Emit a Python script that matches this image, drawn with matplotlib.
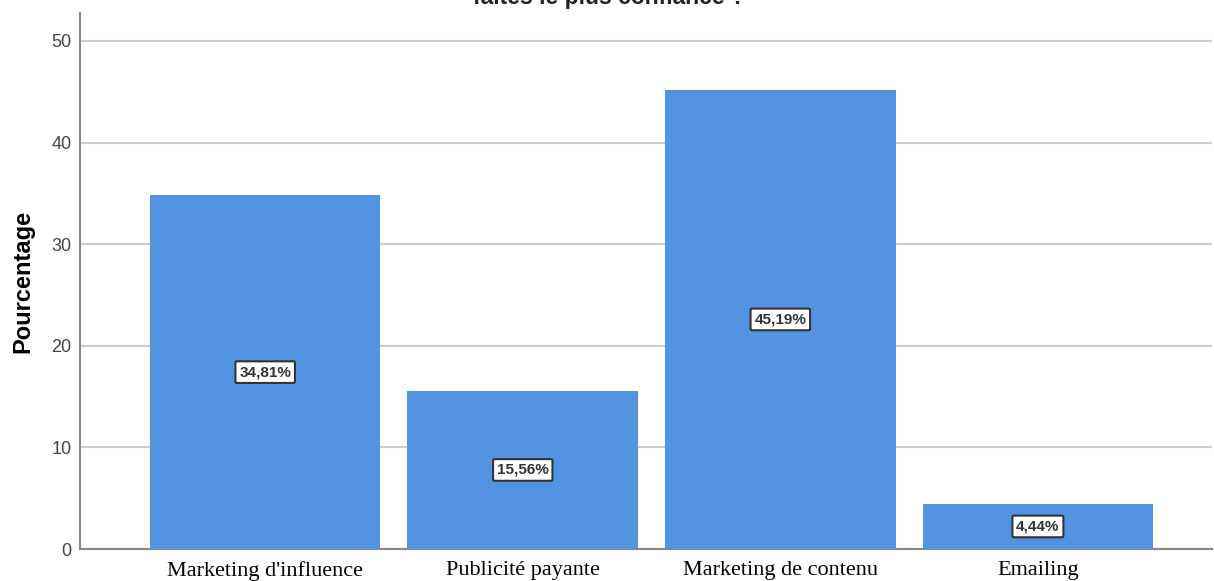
import matplotlib
matplotlib.use("Agg")
import matplotlib.pyplot as plt
import numpy as np

categories = ["Marketing d'influence", "Publicité payante", "Marketing de contenu", "Emailing"]
values = [34.81, 15.56, 45.19, 4.44]
labels = ["34,81%", "15,56%", "45,19%", "4,44%"]
yticks = [0, 10, 20, 30, 40, 50]

fig = plt.figure(figsize=(12.14, 5.81), dpi=100)
ax = fig.add_axes([80/1214, 1-549/581, 1-80/1214 - 2/1214, (549-13)/581])

x = np.arange(len(categories))
ax.bar(x, values, width=0.895, color="#5294E2", zorder=3)
for xi, v, lab in zip(x, values, labels):
    ax.text(xi, v/2, lab, ha="center", va="center", fontsize=11, family="Liberation Sans",
            fontweight="bold", color="#333333", zorder=4,
            bbox=dict(boxstyle="round,pad=0.25,rounding_size=0.1", facecolor="white", edgecolor="#333333", linewidth=1.5))

ax.set_xlim(-0.719, 3.676)
ax.set_ylim(0, 52.75)
ax.set_yticks(yticks)
ax.set_yticklabels([str(t) for t in yticks], fontsize=13, family="Liberation Sans", color="#444444")
ax.set_xticks(x)
ax.set_xticklabels(categories, fontsize=16, family="Liberation Serif", color="black")
ax.tick_params(axis="y", length=0, pad=6)
ax.tick_params(axis="x", length=0, pad=9)
ax.grid(axis="y", color="#cccccc", linewidth=1.5, zorder=0)
for s in ["top", "right"]:
    ax.spines[s].set_visible(False)
for s in ["left", "bottom"]:
    ax.spines[s].set_color("#888888")
    ax.spines[s].set_linewidth(1.5)
ax.set_ylabel("Pourcentage", fontsize=17, fontweight="bold", family="Liberation Sans", labelpad=12)

fig.text(609/1214, 1-4/581, "faites le plus confiance ?", ha="center", va="baseline", fontsize=16.5,
         fontweight="bold", family="Liberation Sans", color="#222222")

fig.savefig("out.png", dpi=100)
